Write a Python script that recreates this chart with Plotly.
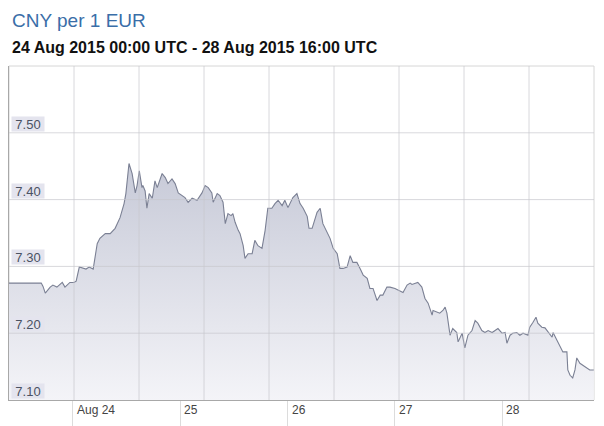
import plotly.graph_objects as go
import pandas as pd

# ---- data (hours relative to 24 Aug 2015 00:00, CNY per EUR) ----
hours = [-14.2, -7.0, -6.6, -6.1, -5.0, -4.4, -3.5, -2.3, -1.7, -1.2, -0.6, 0.3, 0.8,
         1.5, 2.3, 3.0, 3.7, 4.6, 5.5, 6.1, 7.3, 8.4, 9.5, 10.6, 11.5, 11.9, 12.6, 13.3,
         14.0, 14.4, 14.9, 15.5, 15.7, 16.2, 16.6, 17.1, 17.8, 18.4, 18.9, 19.5, 20.0,
         20.7, 21.3, 22.2, 22.9, 23.6, 24.4, 25.1, 25.8, 26.7, 27.8, 28.9, 29.6, 30.3,
         31.1, 31.4, 32.3, 32.9, 33.6, 34.1, 34.7, 35.4, 35.8, 36.3, 37.0, 37.4, 38.1,
         38.5, 39.2, 40.1, 40.7, 41.4, 42.3, 43.0, 43.6, 44.5, 45.2, 45.9, 46.8, 47.4,
         48.1, 49.2, 50.1, 50.8, 51.5, 52.4, 52.8, 53.5, 54.6, 55.3, 55.9, 56.8, 57.5,
         58.2, 59.1, 59.7, 60.4, 61.3, 62.0, 62.6, 63.5, 64.2, 64.9, 65.8, 66.4, 67.1,
         68.0, 68.7, 69.3, 70.2, 70.9, 72.0, 73.1, 73.8, 74.7, 75.4, 75.8, 76.5, 77.1,
         78.0, 78.7, 79.4, 80.3, 80.5, 81.4, 82.0, 82.7, 83.2, 83.6, 84.3, 84.9, 85.8,
         86.1, 87.0, 87.6, 88.3, 89.2, 89.9, 90.5, 91.4, 92.1, 92.8, 93.7, 94.3, 95.0,
         95.9, 96.6, 97.0, 97.7, 98.3, 99.2, 99.9, 100.6, 101.7, 102.1, 102.8, 103.5,
         103.9, 104.8, 105.5, 106.2, 107.1, 107.3, 108.2, 108.8, 109.5, 110.4, 110.6,
         111.1, 111.7, 112.2, 112.6, 113.3, 114.0, 114.9, 115.5, 116.4]
rates = [7.275, 7.275, 7.270, 7.260, 7.269, 7.272, 7.269, 7.276, 7.269, 7.272, 7.276, 7.276, 7.278,
         7.299, 7.297, 7.296, 7.299, 7.296, 7.334, 7.342, 7.349, 7.349, 7.357, 7.373, 7.394, 7.409, 7.454, 7.439,
         7.410, 7.421, 7.443, 7.418, 7.421, 7.413, 7.387, 7.409, 7.402, 7.428, 7.418, 7.428, 7.439,
         7.433, 7.424, 7.431, 7.424, 7.410, 7.406, 7.403, 7.396, 7.402, 7.399, 7.410, 7.421, 7.418,
         7.410, 7.396, 7.409, 7.406, 7.396, 7.364, 7.379, 7.376, 7.379, 7.366, 7.354, 7.349, 7.331,
         7.312, 7.319, 7.319, 7.339, 7.331, 7.327, 7.354, 7.387, 7.387, 7.394, 7.399, 7.391, 7.399,
         7.388, 7.403, 7.409, 7.394, 7.387, 7.375, 7.357, 7.357, 7.381, 7.387, 7.364, 7.351, 7.342,
         7.327, 7.319, 7.297, 7.297, 7.299, 7.316, 7.306, 7.306, 7.297, 7.287, 7.282, 7.267, 7.267,
         7.249, 7.257, 7.257, 7.269, 7.269, 7.267, 7.264, 7.261, 7.272, 7.275, 7.273, 7.275, 7.276,
         7.269, 7.252, 7.245, 7.227, 7.234, 7.231, 7.230, 7.234, 7.239, 7.230, 7.197, 7.207, 7.201,
         7.187, 7.200, 7.178, 7.197, 7.204, 7.219, 7.215, 7.204, 7.201, 7.204, 7.201, 7.204, 7.207,
         7.200, 7.201, 7.185, 7.197, 7.200, 7.201, 7.197, 7.200, 7.197, 7.209, 7.216, 7.224,
         7.215, 7.209, 7.208, 7.201, 7.194, 7.201, 7.190, 7.182, 7.172, 7.172, 7.145,
         7.137, 7.133, 7.145, 7.163, 7.155, 7.152, 7.148, 7.145, 7.145]

day_ticks = ["2015-08-24", "2015-08-25", "2015-08-26", "2015-08-27", "2015-08-28"]
day_labels = ["Aug 24", "25", "26", "27", "28"]
y_ticks = [7.10, 7.20, 7.30, 7.40, 7.50]
y_labels = ["7.10", "7.20", "7.30", "7.40", "7.50"]
title_text = "CNY per 1 EUR"
subtitle_text = "24 Aug 2015 00:00 UTC - 28 Aug 2015 16:00 UTC"

base = pd.Timestamp("2015-08-24 00:00")
times = base + pd.to_timedelta(hours, unit="h")
x_start = base + pd.Timedelta(hours=-14.2)
x_end = base + pd.Timedelta(hours=116.45)

FONT = "Liberation Sans, Arial, sans-serif"

fig = go.Figure()
fig.add_trace(go.Scatter(
    x=times, y=rates, mode="lines",
    line=dict(color="#7b8094", width=1.1),
    fill="tozeroy",
    fillgradient=dict(type="vertical", start=7.10, stop=7.46,
                      colorscale=[[0, "#f4f4f8"], [1, "#c6c9d7"]]),
    hoverinfo="skip", showlegend=False,
))

shapes = []
# frame
shapes.append(dict(type="rect", xref="paper", yref="paper", x0=0, x1=1, y0=0, y1=1,
                   line=dict(color="#d6d6d6", width=1), layer="below"))
# vertical grid columns
for i in range(1, 9):
    shapes.append(dict(type="line", xref="paper", yref="paper", x0=i / 9, x1=i / 9, y0=0, y1=1,
                       line=dict(color="rgba(200,200,205,0.7)", width=1), layer="above"))
# horizontal grid
for v in y_ticks[1:]:
    shapes.append(dict(type="line", xref="paper", yref="y", x0=0, x1=1, y0=v, y1=v,
                       line=dict(color="rgba(200,200,205,0.7)", width=1), layer="above"))

annotations = []
for v, lab in zip(y_ticks, y_labels):
    annotations.append(dict(xref="paper", yref="y", x=0, y=v, xanchor="left", yanchor="bottom",
                            xshift=2, yshift=1, text=lab, showarrow=False, width=32, height=14,
                            bgcolor="#e4e4ee", borderpad=0, align="center", valign="middle",
                            font=dict(family=FONT, size=13, color="#4a5263")))
for d, lab in zip(day_ticks, day_labels):
    annotations.append(dict(xref="x", yref="paper", x=d, y=0, xanchor="left", yanchor="top",
                            xshift=2, yshift=-1, text=lab, showarrow=False,
                            font=dict(family=FONT, size=12, color="#444444")))
annotations.append(dict(xref="paper", yref="paper", x=0, y=1, xanchor="left", yanchor="middle",
                        xshift=1, yshift=46, text=title_text, showarrow=False,
                        font=dict(family=FONT, size=19, color="#3a6ea8")))
annotations.append(dict(xref="paper", yref="paper", x=0, y=1, xanchor="left", yanchor="middle",
                        xshift=1, yshift=19, text="<b>" + subtitle_text + "</b>", showarrow=False,
                        font=dict(family=FONT, size=16, color="#111111")))

# the page body adds an 8px offset, so the figure is sized to end at the window edge
fig.update_layout(
    width=596, height=418,
    margin=dict(l=1, r=10, t=58, b=26, pad=0),
    paper_bgcolor="white", plot_bgcolor="white",
    shapes=shapes, annotations=annotations,
    xaxis=dict(type="date", range=[x_start, x_end], showgrid=False, zeroline=False,
               showline=True, linecolor="#a8a8a8", linewidth=1,
               ticks="outside", ticklen=26, tickcolor="#dcdcdc", tickwidth=1,
               tickvals=day_ticks, showticklabels=False, fixedrange=True),
    yaxis=dict(range=[7.10, 7.60], showgrid=False, zeroline=False,
               showline=True, linecolor="#a8a8a8", linewidth=1,
               tickvals=y_ticks, showticklabels=False, ticks="", fixedrange=True),
    font=dict(family=FONT),
)

fig.write_html("out.html")
